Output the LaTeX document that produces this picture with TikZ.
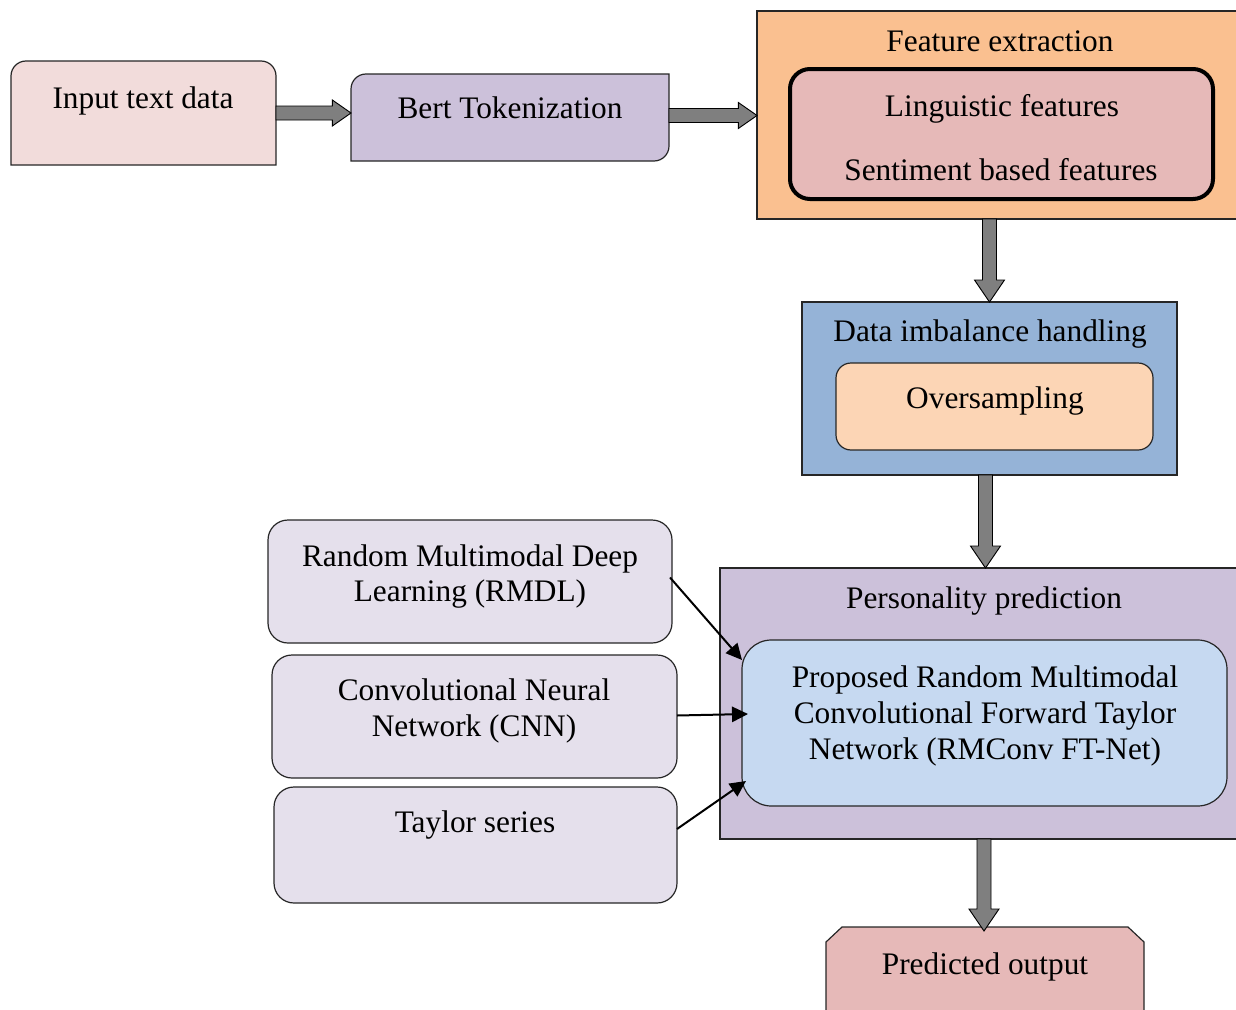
\documentclass[tikz,border=0pt]{standalone}
\usepackage{fontspec}
\setmainfont{Liberation Serif}
\usetikzlibrary{calc,arrows.meta}
\definecolor{inpfill}{HTML}{F2DCDB}
\definecolor{bertfill}{HTML}{CCC1DA}
\definecolor{fefill}{HTML}{FAC090}
\definecolor{lingfill}{HTML}{E6B9B8}
\definecolor{dihfill}{HTML}{95B3D7}
\definecolor{ovsfill}{HTML}{FCD5B5}
\definecolor{ppfill}{HTML}{CCC1DA}
\definecolor{propfill}{HTML}{C6D9F1}
\definecolor{leftfill}{HTML}{E5E0EC}
\definecolor{predfill}{HTML}{E6B9B8}
\definecolor{arrowgray}{HTML}{7F7F7F}
\newcommand{\hblockarrow}[2]{%
  \draw[barrow] let \p1=(#1), \p2=(#2) in
    (\x1,\y1+5.25pt) -- (\x2-14pt,\y1+5.25pt) -- (\x2-14pt,\y1+9.75pt) -- (\x2,\y1)
    -- (\x2-14pt,\y1-9.75pt) -- (\x2-14pt,\y1-5.25pt) -- (\x1,\y1-5.25pt) -- cycle;}
\newcommand{\vblockarrow}[2]{%
  \draw[barrow] let \p1=(#1), \p2=(#2) in
    (\x2-5.25pt,\y1) -- (\x2-5.25pt,\y2+16.5pt) -- (\x2-11.25pt,\y2+16.5pt) -- (\x2,\y2)
    -- (\x2+11.25pt,\y2+16.5pt) -- (\x2+5.25pt,\y2+16.5pt) -- (\x2+5.25pt,\y1) -- cycle;}
\begin{document}
\begin{tikzpicture}[x=0.75pt,y=-0.75pt,
  font=\fontsize{23.5}{27}\selectfont,
  sz/.style 2 args={minimum width=#1*0.75pt, minimum height=#2*0.75pt},
  frame/.style={anchor=north west, inner sep=0, outer sep=0},
  edge/.style={draw=black!85, line width=0.9pt},
  txt/.style={anchor=base, inner sep=0, align=center},
  barrow/.style={fill=arrowgray, draw=black, line width=0.7pt},
  thinarrow/.style={draw=black, line width=1.5pt, -{Triangle[length=12pt,width=11.5pt]}}
]
\useasboundingbox (0,0) rectangle (1236,1010);

% ---- boxes
\node[frame, sz={265}{104}] (inp) at (11,61) {};
\draw[edge, fill=inpfill] (inp.south west) -- ($(inp.north west)+(0,15)$)
  arc[start angle=180, end angle=90, radius=11.25pt] -- ($(inp.north east)+(-15,0)$)
  arc[start angle=90, end angle=0, radius=11.25pt] -- (inp.south east) -- cycle;

\node[frame, sz={318}{87}] (bert) at (351,74) {};
\draw[edge, fill=bertfill] (bert.south west) -- ($(bert.north west)+(0,15)$)
  arc[start angle=180, end angle=90, radius=11.25pt] -- (bert.north east)
  -- ($(bert.south east)+(0,-15)$)
  arc[start angle=0, end angle=-90, radius=11.25pt] -- cycle;

\node[frame, sz={500}{208}, edge, fill=fefill] (fe) at (757,11) {};
\node[frame, sz={423}{130}, draw=black, line width=3pt, rounded corners=15pt, fill=lingfill] (ling) at (790,69) {};

\node[frame, sz={375}{173}, edge, fill=dihfill] (dih) at (802,302) {};
\node[frame, sz={317}{87}, edge, rounded corners=11.25pt, fill=ovsfill] (ovs) at (836,363) {};

\node[frame, sz={537}{271}, edge, fill=ppfill] (pp) at (720,568) {};
\node[frame, sz={485}{166}, edge, rounded corners=22pt, fill=propfill] (prop) at (742,640) {};

\node[frame, sz={404}{123}, edge, rounded corners=15pt, fill=leftfill] (rmdl) at (268,520) {};
\node[frame, sz={405}{123}, edge, rounded corners=15pt, fill=leftfill] (cnn) at (272,655) {};
\node[frame, sz={403}{116}, edge, rounded corners=15pt, fill=leftfill] (tay) at (274,787) {};

\node[frame, sz={318}{110}] (pred) at (826,927) {};
\draw[edge, fill=predfill] (pred.south west) -- ($(pred.north west)+(0,15)$)
  -- ($(pred.north west)+(16,0)$) -- ($(pred.north east)+(-16,0)$)
  -- ($(pred.north east)+(0,15)$) -- (pred.south east) -- cycle;

% ---- texts
\node[txt] (tinp) at (143,108) {Input text data};
\node[txt] (tbert) at (510,118) {Bert Tokenization};
\node[txt] (tfe) at (1000,51) {Feature extraction};
\node[txt] (tling) at (1002,116) {Linguistic features};
\node[txt] (tsent) at (1001,180) {Sentiment based features};
\node[txt] (tdih) at (990,341) {Data imbalance handling};
\node[txt] (tovs) at (995,408) {Oversampling};
\node[txt] (tpp) at (984,608) {Personality prediction};
\node[txt] (tprop1) at (985,687) {Proposed Random Multimodal};
\node[txt] (tprop2) at (985,723) {Convolutional Forward Taylor};
\node[txt] (tprop3) at (985,759) {Network (RMConv FT-Net)};
\node[txt] (trmdl1) at (470,566) {Random Multimodal Deep};
\node[txt] (trmdl2) at (470,601) {Learning (RMDL)};
\node[txt] (tcnn1) at (474,700) {Convolutional Neural};
\node[txt] (tcnn2) at (474,736) {Network (CNN)};
\node[txt] (ttay) at (475,832) {Taylor series};
\node[txt] (tpred) at (985,974) {Predicted output};

% ---- block arrows
\hblockarrow{inp.east}{bert.west}
\hblockarrow{$(bert.east)+(0,-2)$}{fe.west}
\vblockarrow{fe.south}{dih.north}
\vblockarrow{dih.south}{$(pp.north)+(-3,0)$}
\vblockarrow{pp.south}{$(pred.north)+(-1,4)$}

% ---- thin arrows
\draw[thinarrow] ($(rmdl.east)+(-2,-4)$) -- ($(prop.north west)+(0,20)$);
\draw[thinarrow] ($(cnn.east)+(0,-1)$) -- ($(prop.west)+(6,-9)$);
\draw[thinarrow] ($(tay.east)+(0,-16)$) -- ($(prop.south west)+(4,-25)$);
\end{tikzpicture}
\end{document}
